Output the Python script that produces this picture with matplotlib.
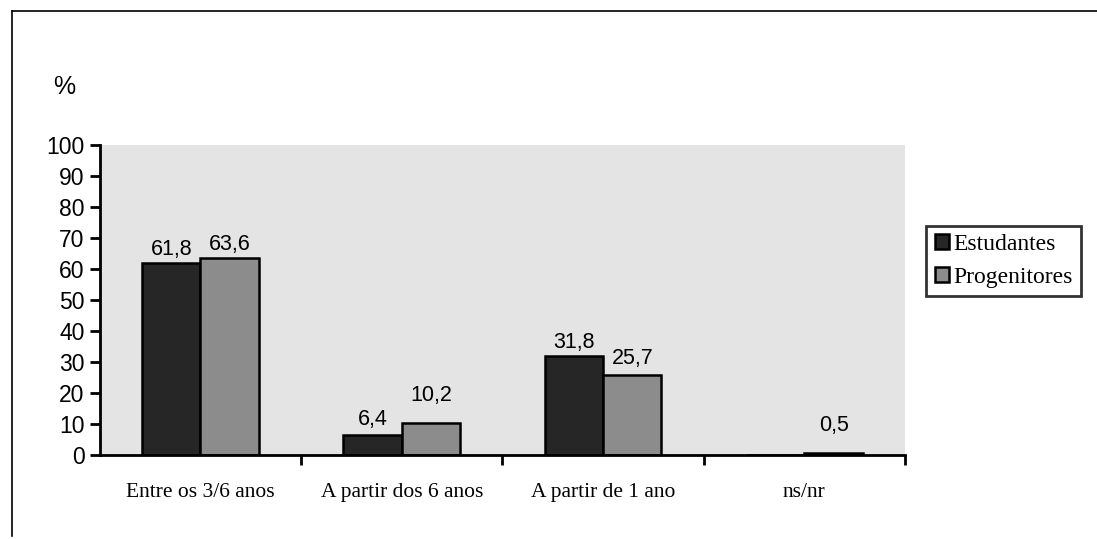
import matplotlib.pyplot as plt
from matplotlib.lines import Line2D
import numpy as np

categories = ['Entre os 3/6 anos', 'A partir dos 6 anos', 'A partir de 1 ano', 'ns/nr']
estudantes = [61.8, 6.4, 31.8, 0.0]
progenitores = [63.6, 10.2, 25.7, 0.5]
est_labels = ['61,8', '6,4', '31,8', '']
prog_labels = ['63,6', '10,2', '25,7', '0,5']
yticks = list(range(0, 101, 10))

fig = plt.figure(figsize=(10.97, 5.39), dpi=100)
ax = fig.add_axes([0.091, 0.156, 0.734, 0.575])

x = np.arange(len(categories))
w = 0.29
b1 = ax.bar(x - w / 2, estudantes, w, color='#262626', edgecolor='black', linewidth=1.8, label='Estudantes')
b2 = ax.bar(x + w / 2, progenitores, w, color='#8c8c8c', edgecolor='black', linewidth=1.8, label='Progenitores')

sans = ['Liberation Sans', 'DejaVu Sans']
serif = ['Liberation Serif', 'DejaVu Serif']
for xi, v, s in zip(x, estudantes, est_labels):
    if s:
        ax.text(xi - w / 2, v + 1.0 if v > 20 else v + 1.5, s, ha='center', va='bottom', fontsize=15.5, family=sans)
for xi, v, s in zip(x, progenitores, prog_labels):
    ax.text(xi + w / 2, v + 5.5 if v < 20 else (v + 1.0 if v > 50 else v + 2.0), s,
            ha='center', va='bottom', fontsize=15.5, family=sans)

ax.set_facecolor('#e4e4e4')
ax.set_xlim(-0.5, 3.5)
ax.set_ylim(0, 100)
ax.set_yticks(yticks)
ax.set_yticklabels([str(t) for t in yticks], fontsize=16.5, family=sans)
ax.set_xticks(x)
ax.set_xticklabels(categories, fontsize=15.5, family=serif)
ax.tick_params(axis='x', length=0, pad=20)
ax.set_xticks(list(x[1:] - 0.5) + [3.5], minor=True)
ax.tick_params(axis='x', which='minor', length=7, width=2, direction='out')
ax.tick_params(axis='y', length=7, width=2, direction='out', pad=4)
for side in ['top', 'right']:
    ax.spines[side].set_visible(False)
for side in ['left', 'bottom']:
    ax.spines[side].set_linewidth(2)

fig.text(0.048, 0.826, '%', fontsize=18, family=sans)

leg = fig.legend(handles=[b1, b2], loc='center', bbox_to_anchor=(0.915, 0.516),
                 prop={'family': serif, 'size': 17}, frameon=True, fancybox=False,
                 handlelength=0.6, handleheight=0.6, handletextpad=0.2,
                 borderpad=0.35, labelspacing=0.5, borderaxespad=0)
leg.get_frame().set_edgecolor('black')
leg.get_frame().set_linewidth(2)

fig.add_artist(Line2D([0.011, 0.011], [0.005, 0.98], color='black', lw=1.2))
fig.add_artist(Line2D([0.011, 1.0], [0.98, 0.98], color='black', lw=1.2))

fig.savefig('out.png', dpi=100)
